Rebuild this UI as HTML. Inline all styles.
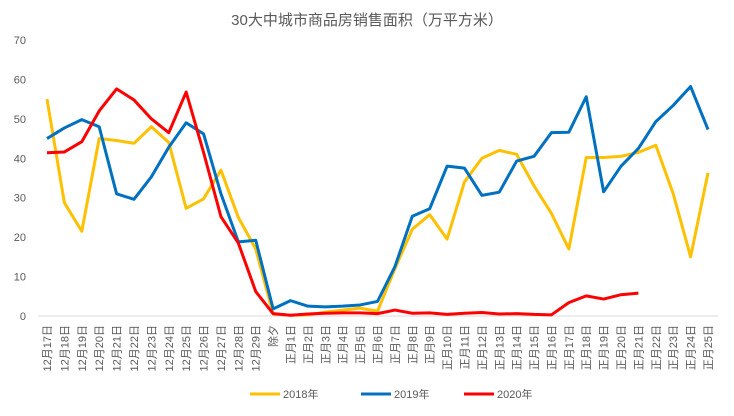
<!DOCTYPE html>
<html><head><meta charset="utf-8"><style>
body{margin:0;background:#fff}
svg{display:block;font-family:"Liberation Sans","Noto Sans CJK SC",sans-serif}
</style></head><body>
<svg id="c" width="734" height="416">
<text x="367" y="25" text-anchor="middle" font-size="15" fill="#595959">30大中城市商品房销售面积（万平方米）</text>
</svg>
<script>
const categories=['12月17日','12月18日','12月19日','12月20日','12月21日','12月22日','12月23日','12月24日','12月25日','12月26日','12月27日','12月28日','12月29日','除夕','正月1日','正月2日','正月3日','正月4日','正月5日','正月6日','正月7日','正月8日','正月9日','正月10日','正月11日','正月12日','正月13日','正月14日','正月15日','正月16日','正月17日','正月18日','正月19日','正月20日','正月21日','正月22日','正月23日','正月24日','正月25日'];
const s2018=[55,28.7,21.5,45,44.5,43.8,48,44,27.3,29.7,37,25,17,0.5,0.2,0.3,1,1.5,2,1.2,12,22,25.7,19.5,34,40,42,41,33,26,17,40.2,40.2,40.5,41.5,43.3,31,15,36.3];
const s2019=[45,47.7,49.8,48,31,29.6,35.3,42.8,49,46.2,31,18.8,19.2,1.8,3.9,2.5,2.3,2.5,2.8,3.7,12.5,25.3,27.2,38,37.5,30.6,31.4,39.3,40.5,46.5,46.6,55.6,31.5,38,42.5,49.3,53.4,58.2,47.3];
const s2020=[41.4,41.6,44.2,52,57.6,54.8,50,46.5,56.8,41.5,25.2,18.5,6.2,0.6,0.2,0.5,0.7,0.8,0.8,0.6,1.5,0.7,0.8,0.4,0.7,0.9,0.5,0.6,0.4,0.3,3.4,5.1,4.3,5.4,5.8];
const yTicks=[0,10,20,30,40,50,60,70];
const seriesNames=['2018年','2019年','2020年'];
const colors=['#FFC000','#0070C0','#FF0000'];
const svg=document.getElementById('c');
const NS='http://www.w3.org/2000/svg';
const x0=47,x1=708,yb=316,yt=40;
const xs=i=>x0+i*(x1-x0)/(categories.length-1);
const ys=v=>yb-v*(yb-yt)/70;
function mk(t,a){const e=document.createElementNS(NS,t);for(const k in a)e.setAttribute(k,a[k]);svg.appendChild(e);return e;}
const base=mk('line',{x1:38,x2:718,y1:yb,y2:yb,stroke:'#d9d9d9','stroke-width':1});


yTicks.forEach(v=>{const t=mk('text',{x:26,y:ys(v)+4,'text-anchor':'end','font-size':11,fill:'#595959'});t.textContent=v;

});
categories.forEach((c,i)=>{const x=xs(i);const t=mk('text',{transform:`translate(${x+4},325) rotate(-90)`,'text-anchor':'end','font-size':11,fill:'#595959'});t.textContent=c;

});
[s2018,s2019,s2020].forEach((s,k)=>{const p=mk('polyline',{points:s.map((v,i)=>xs(i)+','+ys(v)).join(' '),fill:'none',stroke:colors[k],'stroke-width':3,'stroke-linejoin':'round'});

});
const lx=[250,361,464];
seriesNames.forEach((n,k)=>{const l=mk('line',{x1:lx[k],x2:lx[k]+30,y1:394,y2:394,stroke:colors[k],'stroke-width':3});


const t=mk('text',{x:lx[k]+33,y:398,'font-size':11,fill:'#595959'});t.textContent=n;

});
</script>
</body></html>
